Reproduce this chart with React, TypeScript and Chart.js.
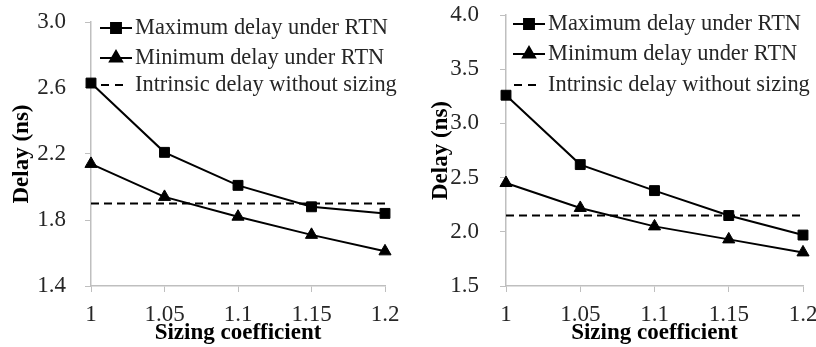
import React, { useEffect, useRef } from "react";
import { Chart, registerables } from "chart.js";
import { drawPoint } from "chart.js/helpers";

Chart.register(...registerables);

// ---------------- data ----------------
const categories = ["1", "1.05", "1.1", "1.15", "1.2"];
const seriesLabels = [
  "Maximum delay under RTN",
  "Minimum delay under RTN",
  "Intrinsic delay without sizing",
];

const leftMax = [2.63, 2.21, 2.01, 1.88, 1.84];
const leftMin = [2.14, 1.94, 1.82, 1.71, 1.61];
const leftIntrinsic = [1.9, 1.9, 1.9, 1.9, 1.9];
const leftTicks = [1.4, 1.8, 2.2, 2.6, 3.0];

const rightMax = [3.26, 2.62, 2.38, 2.15, 1.97];
const rightMin = [2.45, 2.22, 2.05, 1.93, 1.81];
const rightIntrinsic = [2.15, 2.15, 2.15, 2.15, 2.15];
const rightTicks = [1.5, 2.0, 2.5, 3.0, 3.5, 4.0];

const xTitle = "Sizing coefficient";
const yTitle = "Delay (ns)";

// ---------------- styling ----------------
const FONT = "Liberation Serif";
const FS = 23;
const LEGEND_FS = 22.4;
const TEXT = "#262626";
const AXIS = "#bfbfbf";

Chart.defaults.font.family = FONT;

const legendPlugin = {
  id: "lineLegend",
  afterDraw(chart: any, _args: any, opts: any) {
    const ctx = chart.ctx as CanvasRenderingContext2D;
    ctx.save();
    chart.data.datasets.forEach((ds: any, i: number) => {
      const y = opts.rows[i];
      const x0 = opts.x;
      const w = opts.sampleWidth;
      ctx.strokeStyle = "#000";
      ctx.lineWidth = 2;
      if (ds.borderDash && ds.borderDash.length) {
        ctx.setLineDash([8, 6]);
        ctx.beginPath();
        ctx.moveTo(x0 + 1, y);
        ctx.lineTo(x0 + 24, y);
        ctx.stroke();
        ctx.setLineDash([]);
      } else {
        ctx.setLineDash([]);
        ctx.beginPath();
        ctx.moveTo(x0, y);
        ctx.lineTo(x0 + w, y);
        ctx.stroke();
        ctx.fillStyle = "#000";
        drawPoint(
          ctx,
          { pointStyle: ds.pointStyle, radius: 7, borderWidth: 1, rotation: 0 } as any,
          x0 + w / 2,
          y
        );
      }
      ctx.fillStyle = TEXT;
      ctx.font = `${LEGEND_FS}px "${FONT}"`;
      ctx.textBaseline = "middle";
      ctx.textAlign = "left";
      ctx.fillText(ds.label, x0 + w + 3, y);
    });
    ctx.restore();
  },
};

type PanelProps = {
  maxData: number[];
  minData: number[];
  intrinsic: number[];
  ticks: number[];
  width: number;
  plotLeft: number;
  plotRight: number;
  plotTop: number;
  plotBottom: number;
  tickPad: number;
  yTitlePad: number;
  legendX: number;
  legendRows: number[];
};

function Panel(p: PanelProps) {
  const ref = useRef<HTMLCanvasElement | null>(null);
  useEffect(() => {
    if (!ref.current) return;
    const height = 347;
    const yMin = p.ticks[0];
    const yMax = p.ticks[p.ticks.length - 1];
    const step = p.ticks[1] - p.ticks[0];
    const chart = new Chart(ref.current, {
      type: "line",
      data: {
        labels: categories,
        datasets: [
          {
            label: seriesLabels[0],
            data: p.maxData,
            borderColor: "#000",
            backgroundColor: "#000",
            borderWidth: 2,
            pointStyle: "rect",
            pointRadius: 7,
            pointBackgroundColor: "#000",
            pointBorderColor: "#000",
            pointBorderWidth: 1,
            tension: 0,
            clip: false,
          },
          {
            label: seriesLabels[1],
            data: p.minData,
            borderColor: "#000",
            backgroundColor: "#000",
            borderWidth: 2,
            pointStyle: "triangle",
            pointRadius: 7,
            pointBackgroundColor: "#000",
            pointBorderColor: "#000",
            pointBorderWidth: 1,
            tension: 0,
            clip: false,
          },
          {
            label: seriesLabels[2],
            data: p.intrinsic,
            borderColor: "#000",
            borderWidth: 2,
            borderDash: [8, 5],
            pointRadius: 0,
            tension: 0,
            clip: false,
          },
        ],
      },
      options: {
        responsive: false,
        animation: false,
        devicePixelRatio: 1,
        layout: {
          padding: {
            left: 0,
            top: p.plotTop,
            right: p.width - p.plotRight,
            bottom: 0,
          },
        },
        plugins: {
          legend: { display: false },
          tooltip: { enabled: false },
          lineLegend: { x: p.legendX, rows: p.legendRows, sampleWidth: 32 },
        } as any,
        scales: {
          x: {
            type: "category",
            offset: false,
            afterFit: (s: any) => {
              s.height = height - p.plotBottom;
              s.paddingLeft = 0;
              s.paddingRight = 0;
            },
            grid: {
              display: true,
              drawOnChartArea: false,
              drawTicks: true,
              tickLength: 6,
              color: AXIS,
            },
            border: { display: true, color: AXIS, width: 1.5 },
            ticks: {
              color: TEXT,
              font: { family: FONT, size: FS },
              padding: 9,
              maxRotation: 0,
              autoSkip: false,
            },
            title: {
              display: true,
              text: xTitle,
              color: "#000",
              font: { family: FONT, size: FS, weight: "bold" },
              padding: { top: 0, bottom: 0 },
            },
          },
          y: {
            type: "linear",
            min: yMin,
            max: yMax,
            afterFit: (s: any) => {
              s.width = p.plotLeft;
              s.paddingTop = 0;
              s.paddingBottom = 0;
            },
            afterBuildTicks: (s: any) => {
              s.ticks = p.ticks.map((v) => ({ value: v }));
            },
            grid: {
              display: true,
              drawOnChartArea: false,
              drawTicks: true,
              tickLength: 6,
              color: AXIS,
            },
            border: { display: true, color: AXIS, width: 1.5 },
            ticks: {
              stepSize: step,
              color: TEXT,
              font: { family: FONT, size: FS },
              padding: p.tickPad,
              callback: (v: any) => Number(v).toFixed(1),
            },
            title: {
              display: true,
              text: yTitle,
              color: "#000",
              font: { family: FONT, size: FS, weight: "bold" },
              padding: { top: p.yTitlePad, bottom: 0 },
            },
          },
        },
      },
      plugins: [legendPlugin],
    });
    return () => chart.destroy();
  }, []);
  return <canvas ref={ref} width={p.width} height={347} style={{ display: "block" }} />;
}

export default function App() {
  return (
    <div
      style={{
        position: "fixed",
        left: 0,
        top: 0,
        width: 816,
        height: 347,
        overflow: "hidden",
        background: "#fff",
      }}
    >
      <div style={{ position: "absolute", left: 0, top: 0 }}>
        <Panel
          maxData={leftMax}
          minData={leftMin}
          intrinsic={leftIntrinsic}
          ticks={leftTicks}
          width={406}
          plotLeft={91}
          plotRight={385}
          plotTop={22}
          plotBottom={286}
          tickPad={19}
          yTitlePad={8}
          legendX={100}
          legendRows={[28, 58, 85]}
        />
      </div>
      <div style={{ position: "absolute", left: 406, top: 0 }}>
        <Panel
          maxData={rightMax}
          minData={rightMin}
          intrinsic={rightIntrinsic}
          ticks={rightTicks}
          width={430}
          plotLeft={100}
          plotRight={397}
          plotTop={15}
          plotBottom={286}
          tickPad={21}
          yTitlePad={21}
          legendX={107}
          legendRows={[24, 54, 85]}
        />
      </div>
    </div>
  );
}
